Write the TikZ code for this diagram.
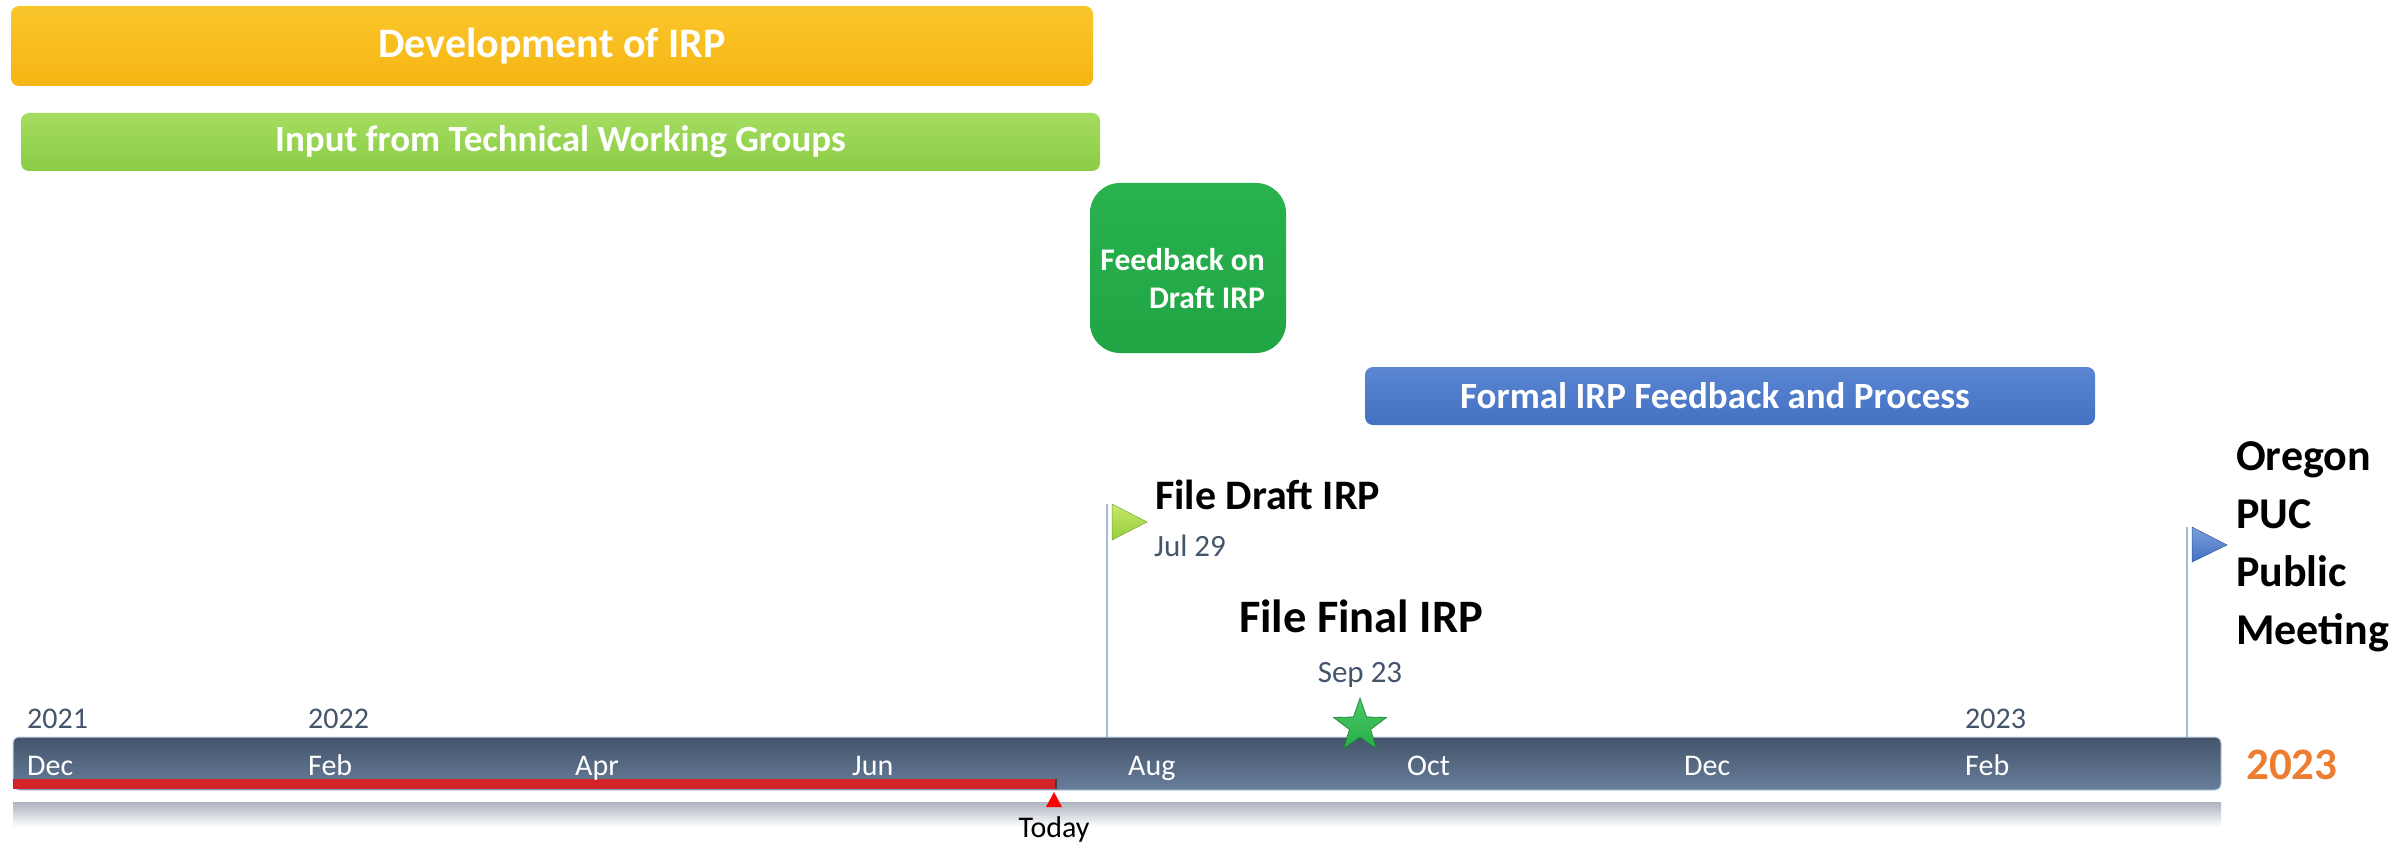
\documentclass[tikz,border=0pt]{standalone}
\usepackage{fontspec}
\setmainfont{Carlito}
\usepackage{tikz}
\usetikzlibrary{positioning,shapes.geometric}
\definecolor{devorange}{HTML}{F6B512}
\definecolor{devorangelt}{HTML}{FAC62C}
\definecolor{twggreen}{HTML}{8ACB45}
\definecolor{twggreenlt}{HTML}{A5DD60}
\definecolor{fbgreen}{HTML}{20A545}
\definecolor{fbgreenlt}{HTML}{2AB24F}
\definecolor{formalblue}{HTML}{4370C1}
\definecolor{formalbluelt}{HTML}{5A86D3}
\definecolor{axistop}{HTML}{44546A}
\definecolor{axisbot}{HTML}{687E9C}
\definecolor{slate}{HTML}{44546A}
\definecolor{stemblue}{HTML}{A7BAD5}
\definecolor{todayred}{HTML}{D42229}
\definecolor{yearorange}{HTML}{ED7D31}
\definecolor{flaglime}{HTML}{C6EA6A}
\definecolor{flaglimedk}{HTML}{96CC3C}
\definecolor{stargreen}{HTML}{27AE47}
\definecolor{stargreenlt}{HTML}{4CC866}

\begin{document}
\begin{tikzpicture}[x=1pt,y=-1pt,
  bar/.style={rectangle,rounded corners=8pt,inner sep=0pt,text=white,font=\fontsize{37}{44}\selectfont\bfseries},
  month/.style={anchor=base west,inner sep=0pt,text=white,font=\fontsize{30}{36}\selectfont},
  yr/.style={anchor=base west,inner sep=0pt,text=slate,font=\fontsize{30}{36}\selectfont},
  mstitle/.style={inner sep=0pt,font=\fontsize{42}{50}\selectfont\bfseries},
  msdate/.style={inner sep=0pt,text=slate,font=\fontsize{31}{37}\selectfont},
  stem/.style={stemblue,line width=1.5pt}]
\useasboundingbox (0,0) rectangle (2392,845);

\node[bar,top color=devorangelt,bottom color=devorange,minimum width=1082pt,minimum height=80pt,font=\fontsize{42}{50}\selectfont\bfseries] (dev) at (552,46) {Development of IRP};
\node[bar,top color=twggreenlt,bottom color=twggreen,minimum width=1079pt,minimum height=58pt] (twg) at (560.5,142) {Input from Technical Working Groups};
\node[bar,rounded corners=30pt,top color=fbgreenlt,bottom color=fbgreen,minimum width=196pt,minimum height=170pt] (fb) at (1188,268) {};
\node[anchor=north east,inner sep=0pt,align=right,text=white,font=\fontsize{31.5}{38}\selectfont\bfseries] (fbtext) at (1265,248) {Feedback on\\Draft IRP};
\node[bar,top color=formalbluelt,bottom color=formalblue,minimum width=730pt,minimum height=58pt] (formal) at (1730,396) {Formal IRP Feedback and Process\hspace*{30pt}};

\node[rectangle,rounded corners=6pt,draw=stemblue!70,line width=1pt,top color=axistop,bottom color=axisbot,minimum width=2208pt,minimum height=53pt,inner sep=0pt] (axis) at (1117,763.5) {};
\shade[top color=black!30!stemblue!60,bottom color=white] (13,802) rectangle (2221,827);
\fill[todayred] (13,779) rectangle (1056,789);
\draw[black!75,line width=1.5pt] (1056,779) -- (1056,789);
\coordinate (today) at (1054,792);
\fill[red] (today) -- ++(-8,15) -- ++(16,0) -- cycle;
\node[anchor=base,inner sep=0pt,font=\fontsize{30}{36}\selectfont] (todaylbl) at (1054,837) {Today};

\foreach \x/\m in {27/Dec,308/Feb,575/Apr,852/Jun,1128/Aug,1407/Oct,1684/Dec,1965/Feb}
  \node[month] (mon\x) at (\x,775) {\m};
\foreach \x/\t in {27/2021,308/2022,1965/2023}
  \node[yr] (yr\x) at (\x,728) {\t};

\coordinate (draftstem) at (1107,504);
\draw[stem] (draftstem) -- (draftstem |- axis.north);
\shade[top color=flaglime,bottom color=flaglimedk,draw=flaglimedk!80!black,line width=.5pt] (1112,504) -- (1147,522) -- (1112,540) -- cycle;
\node[mstitle,anchor=base west] (draft) at (1155,509) {File Draft IRP};
\node[msdate,anchor=base west] (draftdate) at (1154,556) {Jul 29};

\node[mstitle,anchor=base,font=\fontsize{46.5}{56}\selectfont\bfseries] (final) at (1361,632) {File Final IRP};
\node[msdate,anchor=base] (finaldate) at (1360,682) {Sep 23};
\node[star,star points=5,star point ratio=2.5,minimum size=56pt,inner sep=0pt,top color=stargreenlt,bottom color=stargreen,draw=stargreen!70!black,line width=.6pt] (finalstar) at (1360,726) {};

\coordinate (pucstem) at (2187,527);
\draw[stem] (pucstem) -- (pucstem |- axis.north);
\shade[top color=formalbluelt!80!white,bottom color=formalblue,draw=formalblue!80!black,line width=.5pt] (2192,527) -- (2227,545) -- (2192,562) -- cycle;
\node[mstitle,anchor=north west,align=left,font=\fontsize{44}{58}\selectfont\bfseries] (puc) at (2236,441) {Oregon\\PUC\\Public\\Meeting};
\node[anchor=base west,inner sep=0pt,text=yearorange,font=\fontsize{45}{54}\selectfont\bfseries] (endyear) at (2246,779) {2023};
\end{tikzpicture}
\end{document}
